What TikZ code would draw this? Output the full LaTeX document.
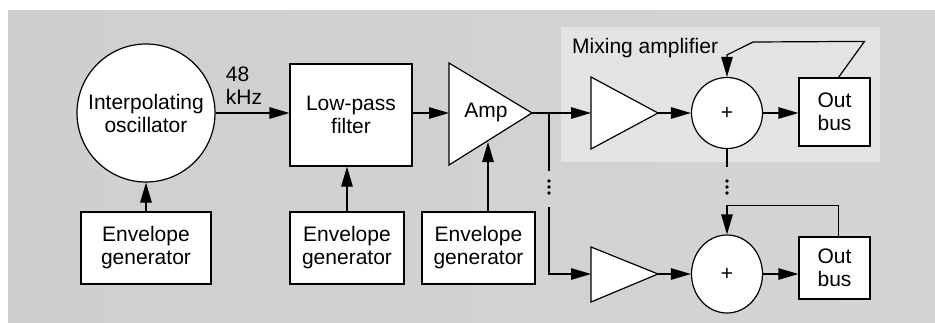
\documentclass[tikz,border=0pt]{standalone}
\usepackage{fontspec}
\setmainfont{Liberation Sans}
\usetikzlibrary{arrows.meta, shapes.geometric, calc}

\definecolor{fundoesq}{RGB}{206,207,209}
\definecolor{fundodir}{RGB}{211,212,214}
\definecolor{mixcinza}{RGB}{227,227,228}

\begin{document}
\begin{tikzpicture}[x=1pt, y=-1pt,
    bloco/.style={draw, fill=white, line width=1.2pt, align=center, inner sep=0pt},
    seta/.style={line width=1.2pt, -{Triangle[length=20pt, width=11.5pt]}},
    linha/.style={line width=1.2pt},
    every node/.style={font=\fontsize{21}{23}\selectfont}]
    \useasboundingbox (0,0) rectangle (935,322);
    % fundo em degradê e painel do misturador
    \shade[left color=fundoesq, middle color=white, right color=fundodir] (8,10) rectangle (935,322);
    \fill[mixcinza] (561,27) rectangle (880,162);
    \node[anchor=base west, inner sep=0pt] (mixtxt) at (572,53) {Mixing amplifier};

    % oscilador, filtro e geradores de envoltória
    \node[bloco, circle, minimum size=138pt] (osc) at (146,113) {Interpolating\\oscillator};
    \node[bloco, minimum width=122pt, minimum height=102pt] (lpf) at (351,115) {Low-pass\\filter};
    \node[bloco, minimum width=130pt, minimum height=72pt] (env1) at (146,248) {Envelope\\generator};
    \node[bloco, minimum width=114pt, minimum height=72pt] (env2) at (347,248) {Envelope\\generator};
    \node[bloco, minimum width=113pt, minimum height=72pt] (env3) at (478.5,248) {Envelope\\generator};
    \node[align=left, inner sep=0pt] (freq) at (244,86) {48\\kHz};

    % amplificador
    \draw[linha, fill=white] (449,63) -- (532,113) coordinate (ampout) -- (449,165) -- cycle;
    \coordinate (ampin) at (449,113);
    \coordinate (ampbot) at (488,142);
    \node (amp) at (486,112) {Amp};

    % triângulos do misturador
    \draw[linha, fill=white] (591,77) -- (658,113) coordinate (m1out) -- (591,149) -- cycle;
    \draw[linha, fill=white] (591,247) -- (658,274) coordinate (m2out) -- (591,302) -- cycle;
    \coordinate (m1in) at (591,113);
    \coordinate (m2in) at (591,274);
    \coordinate (junc) at (549,113);

    % somadores e barramentos
    \node[bloco, circle, minimum size=71pt] (sum1) at (727,113) {+};
    \node[bloco, ellipse, minimum width=71pt, minimum height=78pt] (sum2) at (727,274) {+};
    \node[bloco, minimum width=71pt, minimum height=68pt] (bus1) at (834.5,112) {Out\\bus};
    \node[bloco, minimum width=71pt, minimum height=62pt] (bus2) at (834.5,268) {Out\\bus};

    % ligações
    \draw[seta] (env1.north) -- (osc.south);
    \draw[seta] (osc.east) -- (osc.east -| lpf.west);
    \draw[seta] (env2.north) -- (env2.north |- lpf.south);
    \draw[seta] (lpf.east |- ampin) -- (ampin);
    \draw[seta] (env3.north -| ampbot) -- (ampbot);
    \draw[seta] (ampout) -- (m1in);
    \draw[seta] (m1out) -- (sum1.west);
    \draw[seta] (m2out) -- (sum2.west);
    \draw[seta] (sum1.east) -- (sum1.east -| bus1.west);
    \draw[seta] (sum2.east) -- (sum2.east -| bus2.west);

    % ramo de baixo com reticências
    \draw[linha] (junc) -- ++(0,58);
    \draw[seta] (junc) ++(0,94) |- (m2in);
    \draw[linha] (sum1.south) -- ++(0,18);
    \foreach \y in {181,187,193} {
        \fill (549,\y) circle (1.9);
        \fill (727,\y) circle (1.9);
    }

    % realimentação
    \draw[seta] (bus1.north) ++(4,0) -- ++(26,-36) -- (753,42) -- ($(sum1.north)+(0,-22)$) -- (sum1.north);
    \draw[seta] (bus2.north) ++(4,0) -- ++(0,-31) -| (sum2.north);
\end{tikzpicture}
\end{document}
